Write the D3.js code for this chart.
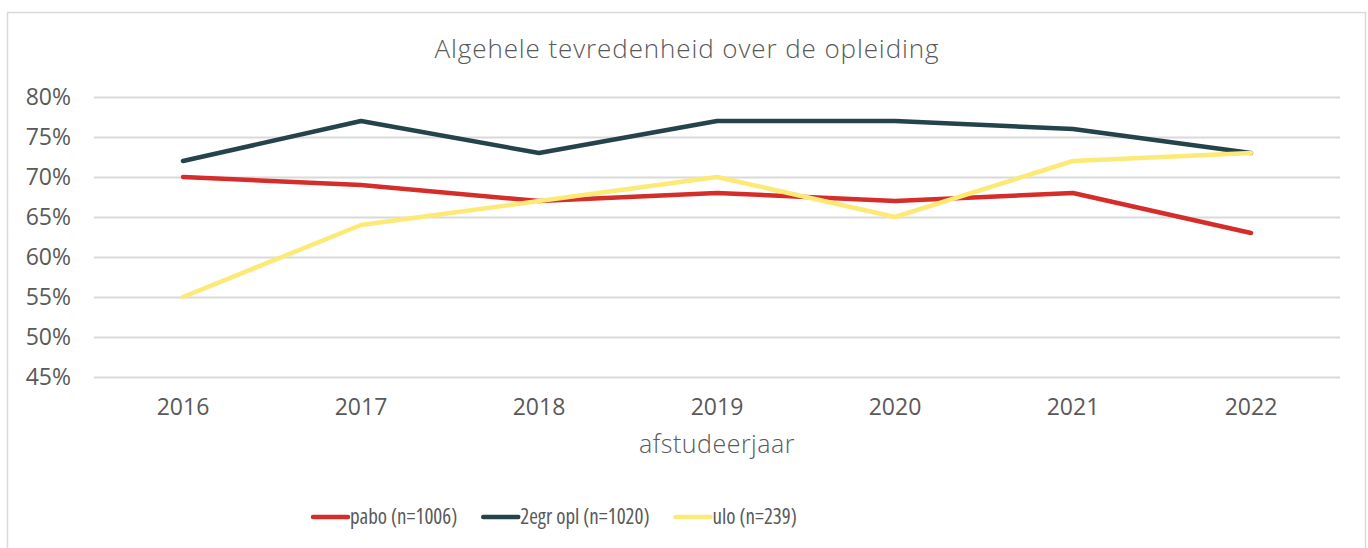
<!DOCTYPE html>
<html lang="nl">
<head>
<meta charset="utf-8">
<title>Algehele tevredenheid over de opleiding</title>
<script src="https://d3js.org/d3.v7.min.js"></script>
<style>
  body { margin: 0; background: #fff; }
  text { font-family: "Open Sans", Lato, sans-serif; fill: #595959; }
  .legend text { font-stretch: 75%; }
</style>
</head>
<body>
<script>
// data
const years = ["2016", "2017", "2018", "2019", "2020", "2021", "2022"];
const pabo = [70, 69, 67, 68, 67, 68, 63];
const tweedegraads = [72, 77, 73, 77, 77, 76, 73];
const ulo = [55, 64, 67, 70, 65, 72, 73];
const seriesNames = ["pabo (n=1006)", "2egr opl (n=1020)", "ulo (n=239)"];
const yTicks = [45, 50, 55, 60, 65, 70, 75, 80];

const w = 1368, h = 548;
const margin = {top: 97, right: 28, bottom: 171, left: 94};

const series = [
  {name: seriesNames[0], values: pabo, color: "#d42d2a"},
  {name: seriesNames[1], values: tweedegraads, color: "#24434a"},
  {name: seriesNames[2], values: ulo, color: "#fde975"}
];

const svg = d3.select("body").append("svg")
    .attr("width", w)
    .attr("height", h);

// chart border
svg.append("rect")
    .attr("x", 7.5).attr("y", 12.5)
    .attr("width", 1358).attr("height", 560)
    .attr("fill", "#fff")
    .attr("stroke", "#d9d9d9")
    .attr("stroke-width", 1.5);

const x = d3.scaleBand()
    .domain(years)
    .range([margin.left, w - margin.right])
    .padding(0);

const y = d3.scaleLinear()
    .domain([45, 80])
    .range([h - margin.bottom, margin.top]);

// gridlines + y labels
const yAxis = d3.axisLeft(y)
    .tickValues(yTicks)
    .tickSize(-(w - margin.left - margin.right))
    .tickPadding(23)
    .tickFormat(d => d + "%");

const gy = svg.append("g")
    .attr("transform", `translate(${margin.left},0)`)
    .call(yAxis);
gy.select(".domain").remove();
gy.selectAll(".tick line").attr("stroke", "#d9d9d9").attr("stroke-width", 2);
gy.selectAll(".tick text")
    .attr("font-size", 23)
    .attr("fill", "#595959")
    .style("font-family", "'Open Sans', sans-serif");

// x labels
const xAxis = d3.axisBottom(x).tickSize(0).tickPadding(22);
const gx = svg.append("g")
    .attr("transform", `translate(0,${h - margin.bottom})`)
    .call(xAxis);
gx.select(".domain").remove();
gx.selectAll(".tick text")
    .attr("font-size", 23)
    .attr("fill", "#595959")
    .style("font-family", "'Open Sans', sans-serif");

// lines
const line = d3.line()
    .x((d, i) => x(years[i]) + x.bandwidth() / 2)
    .y(d => y(d));

svg.append("g").selectAll("path")
  .data(series)
  .join("path")
    .attr("d", d => line(d.values))
    .attr("fill", "none")
    .attr("stroke", d => d.color)
    .attr("stroke-width", 4.5)
    .attr("stroke-linecap", "round")
    .attr("stroke-linejoin", "round");

// title
svg.append("text")
    .attr("x", 687)
    .attr("y", 58)
    .attr("text-anchor", "middle")
    .attr("font-size", 26)
    .attr("font-weight", 300)
    .attr("letter-spacing", 0.9)
    .text("Algehele tevredenheid over de opleiding");

// axis title
svg.append("text")
    .attr("x", 717)
    .attr("y", 453)
    .attr("text-anchor", "middle")
    .attr("font-size", 25)
    .attr("font-weight", 300)
    .attr("letter-spacing", 0.5)
    .text("afstudeerjaar");

// legend
const legend = svg.append("g").attr("class", "legend");
let lx = 313;
series.forEach(s => {
  const g = legend.append("g");
  g.append("line")
      .attr("x1", lx).attr("x2", lx + 35)
      .attr("y1", 517).attr("y2", 517)
      .attr("stroke", s.color)
      .attr("stroke-width", 4.5)
      .attr("stroke-linecap", "round");
  const t = g.append("text")
      .attr("x", lx + 37)
      .attr("y", 524)
      .attr("font-size", 21)
      .text(s.name);
  lx += 37 + t.node().getComputedTextLength() + 26;
});
</script>
</body>
</html>
